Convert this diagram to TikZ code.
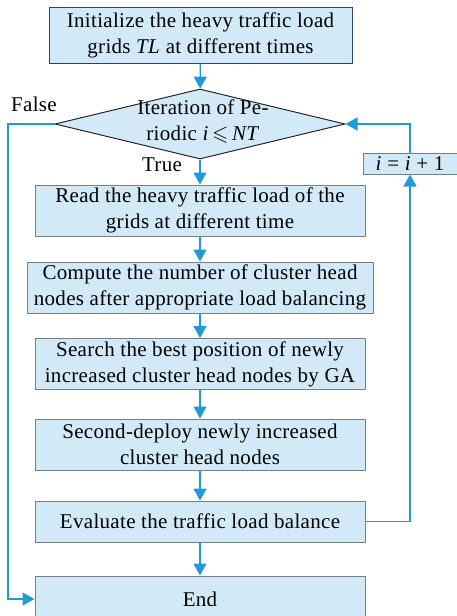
\documentclass[tikz,border=0pt]{standalone}
\usepackage{fontspec}
\usepackage{amssymb}
\setmainfont{Liberation Serif}[LetterSpace=1.5]
\usetikzlibrary{shapes.geometric,arrows.meta}

\definecolor{boxfill}{RGB}{210,234,248}
\definecolor{flowblue}{RGB}{30,155,215}
\definecolor{boxline}{RGB}{125,125,125}
\definecolor{navyline}{RGB}{45,65,110}

\tikzset{
    stepbox/.style={draw=boxline, line width=1pt, fill=boxfill, rectangle, align=center, inner sep=2pt},
    cond/.style={draw=black!85, line width=1pt, fill=boxfill, diamond, inner sep=0pt},
    flow/.style={draw=flowblue, line width=1.3pt, -{Triangle[length=12pt,width=13pt]}},
    lbl/.style={inner sep=0pt}
}

\begin{document}
\begin{tikzpicture}[x=1pt, y=-1pt, font=\fontsize{21}{26}\selectfont]
    \useasboundingbox (0,0) rectangle (456,616);

    \node[stepbox, draw=navyline, minimum width=303, minimum height=56] (init) at (200.5,35) {Initialize the heavy traffic load\\grids \textit{TL} at different times};

    \node[cond, minimum width=290, minimum height=70] (check) at (200,124) {};
    \node[lbl, align=center] (checktext) at (203,122) {Iteration of Pe-\\riodic \textit{i}\,$\leqslant$\,\textit{NT}};

    \node[stepbox, minimum width=330, minimum height=51] (read) at (200,210.5) {Read the heavy traffic load of the\\grids at different time};
    \node[stepbox, minimum width=346, minimum height=51] (count) at (200,287.5) {Compute the number of cluster head\\nodes after appropriate load balancing};
    \node[stepbox, minimum width=330, minimum height=51] (search) at (200,364) {Search the best position of newly\\increased cluster head nodes by GA};
    \node[stepbox, minimum width=330, minimum height=51] (deploy) at (200,444.5) {Second-deploy newly increased\\cluster head nodes};
    \node[stepbox, minimum width=330, minimum height=41] (eval) at (200,521.5) {Evaluate the traffic load balance};
    \node[stepbox, minimum width=330, minimum height=46] (stop) at (200,599) {End};

    \node[stepbox, minimum width=94, minimum height=21, inner sep=0pt] (incr) at (410,163.5) {\textit{i} = \textit{i} + 1};

    \node[lbl] (nolbl) at (34,104) {False};
    \node[lbl] (yeslbl) at (162,165) {True};

    \coordinate (falsecorner) at (8,124);

    % main column
    \draw[flow] (init) -- (check);
    \draw[flow] (check) -- (read);
    \draw[flow] (read) -- (count);
    \draw[flow] (count) -- (search);
    \draw[flow] (search) -- (deploy);
    \draw[flow] (deploy) -- (eval);
    \draw[flow] (eval) -- (stop);

    % loop back and exit
    \draw[flow] (eval.east) -| (incr.south);
    \draw[flow] (incr.north) |- (check.east);
    \draw[flow] (check.west) -- (falsecorner) |- (stop.west);
\end{tikzpicture}
\end{document}
